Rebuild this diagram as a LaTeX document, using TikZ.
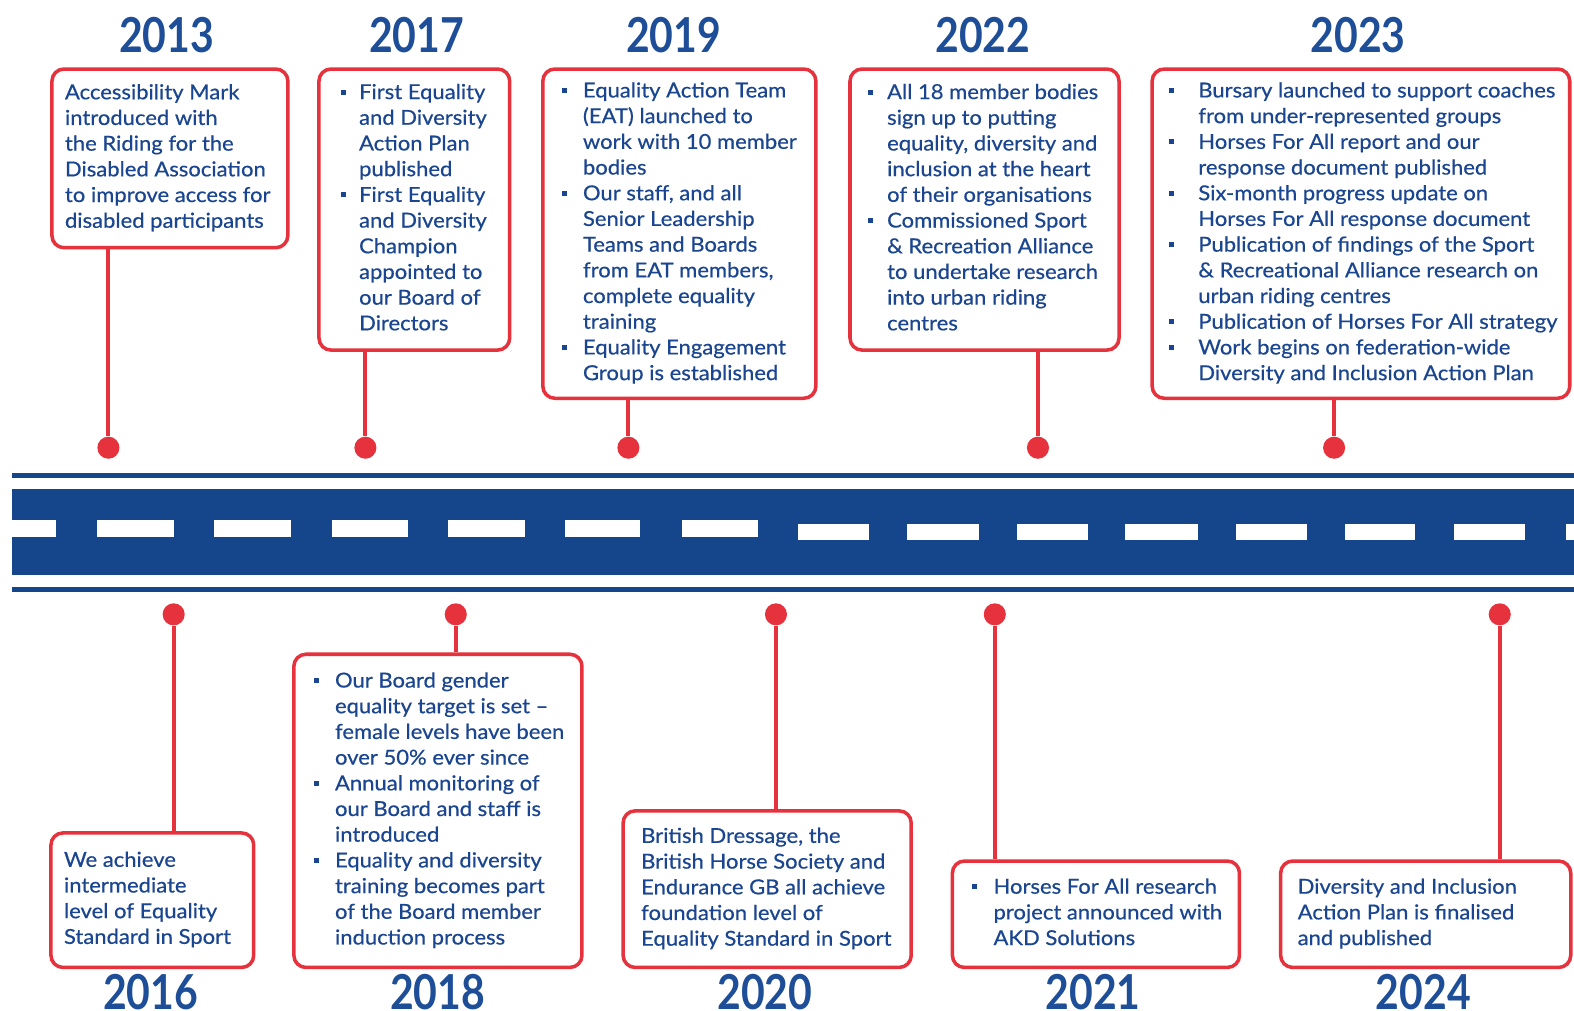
\documentclass[tikz,border=0pt]{standalone}
\usepackage{fontspec}
\setmainfont{Lato}
\newfontfamily\yearfont[FakeStretch=0.85]{Lato}
\newfontfamily\bodyfont[FakeStretch=1.07,FakeBold=0.5]{Lato}
\definecolor{tred}{HTML}{E5323C}
\definecolor{road}{HTML}{15458A}
\definecolor{tblue}{HTML}{1A4590}
\definecolor{yblue}{HTML}{1D4E97}
\newcommand\bodysize{\bodyfont\fontsize{20.5}{25.6}\selectfont}
\newcommand\myb[1][20]{\makebox[#1pt][l]{\rule[4.5pt]{5pt}{5pt}}}
\newcommand\myi[1][20]{\hspace*{#1pt}}
\newcommand\bx[3]{\makebox[#1pt][l]{\hspace*{#2pt}\begin{tabular}{@{}l@{}}#3\end{tabular}}}
\tikzset{
  box/.style={draw=tred, line width=3.5pt, rounded corners=12pt, fill=white,
    inner sep=0pt, anchor=north west, font=\bodysize, text=tblue},
  year/.style={font=\yearfont\bfseries\fontsize{48}{48}\selectfont, text=yblue, inner sep=0pt, anchor=base},
  dot/.style={circle, fill=tred, minimum size=22pt, inner sep=0pt},
  conn/.style={draw=tred, line width=4pt},
}
\begin{document}
\begin{tikzpicture}[x=1pt,y=-1pt]
\useasboundingbox (0,0) rectangle (1568,1007);
\fill[white] (0,0) rectangle (1568,1007);
% road
\fill[road] (12,487) rectangle (1568,573);
\draw[road, line width=5pt] (12,474) -- (1568,474);
\draw[road, line width=5pt] (12,587) -- (1568,587);
\foreach \a/\b in {12/56,97/173,213/290,331/406,446/523,563/638,679/755}
  \fill[white] (\a,518) rectangle (\b,535);
\foreach \a/\b in {795/866,904/975,1013/1084,1121/1193,1231/1302,1340/1410,1448/1519,1560/1568}
  \fill[white] (\a,522) rectangle (\b,538);
% dots
\node[dot] (d2013) at (108,446) {};
\node[dot] (d2017) at (364,446) {};
\node[dot] (d2019) at (626,446) {};
\node[dot] (d2022) at (1034,446) {};
\node[dot] (d2023) at (1329,446) {};
\node[dot] (d2016) at (173,612) {};
\node[dot] (d2018) at (454,612) {};
\node[dot] (d2020) at (773,612) {};
\node[dot] (d2021) at (991,612) {};
\node[dot] (d2024) at (1494,612) {};
% years
\node[year] (y2013) at (166,52) {2013};
\node[year] (y2017) at (415,52) {2017};
\node[year] (y2019) at (671,52) {2019};
\node[year] (y2022) at (979,52) {2022};
\node[year] (y2023) at (1353,52) {2023};
\node[year] (y2016) at (150,1006) {2016};
\node[year] (y2018) at (436,1006) {2018};
\node[year] (y2020) at (762,1006) {2020};
\node[year] (y2021) at (1089,1006) {2021};
\node[year] (y2024) at (1418,1006) {2024};
% boxes top
\node[box, minimum width=235pt, minimum height=178pt] (b2013) at (50,67)
 {\bx{235}{13}{Accessibility Mark\\introduced with\\the Riding for the\\Disabled Association\\to improve access for\\disabled participants}};
\node[box, minimum width=190pt, minimum height=280pt] (b2017) at (316,67)
 {\bx{190}{22}{\myb[18]First Equality\\\myi[18]and Diversity\\\myi[18]Action Plan\\\myi[18]published\\\myb[18]First Equality\\\myi[18]and Diversity\\\myi[18]Champion\\\myi[18]appointed to\\\myi[18]our Board of\\\myi[18]Directors}};
\node[box, minimum width=272pt, minimum height=328pt] (b2019) at (539,67)
 {\bx{272}{19}{\myb[21]Equality Action Team\\\myi[21](EAT) launched to\\\myi[21]work with 10 member\\\myi[21]bodies\\\myb[21]Our staff, and all\\\myi[21]Senior Leadership\\\myi[21]Teams and Boards\\\myi[21]from EAT members,\\\myi[21]complete equality\\\myi[21]training\\\myb[21]Equality Engagement\\\myi[21]Group is established}};
\node[box, minimum width=268pt, minimum height=280pt] (b2022) at (845,67)
 {\bx{268}{18}{\myb[19]All 18 member bodies\\\myi[19]sign up to putting\\\myi[19]equality, diversity and\\\myi[19]inclusion at the heart\\\myi[19]of their organisations\\\myb[19]Commissioned Sport\\\myi[19]\& Recreation Alliance\\\myi[19]to undertake research\\\myi[19]into urban riding\\\myi[19]centres}};
\node[box, minimum width=416pt, minimum height=328pt] (b2023) at (1146,67)
 {\bx{416}{17}{\myb[29]Bursary launched to support coaches\\\myi[29]from under-represented groups\\\myb[29]Horses For All report and our\\\myi[29]response document published\\\myb[29]Six-month progress update on\\\myi[29]Horses For All response document\\\myb[29]Publication of findings of the Sport\\\myi[29]\& Recreational Alliance research on\\\myi[29]urban riding centres\\\myb[29]Publication of Horses For All strategy\\\myb[29]Work begins on federation-wide\\\myi[29]Diversity and Inclusion Action Plan}};
% boxes bottom
\node[box, minimum width=202pt, minimum height=134pt] (b2016) at (49,828)
 {\bx{202}{13}{We achieve\\intermediate\\level of Equality\\Standard in Sport}};
\node[box, minimum width=287pt, minimum height=312pt] (b2018) at (291,650)
 {\bx{287}{20}{\myb[21]Our Board gender\\\myi[21]equality target is set –\\\myi[21]female levels have been\\\myi[21]over 50\% ever since\\\myb[21]Annual monitoring of\\\myi[21]our Board and staff is\\\myi[21]introduced\\\myb[21]Equality and diversity\\\myi[21]training becomes part\\\myi[21]of the Board member\\\myi[21]induction process}};
\node[box, minimum width=287pt, minimum height=156pt] (b2020) at (619,806)
 {\bx{287}{18}{British Dressage, the\\British Horse Society and\\Endurance GB all achieve\\foundation level of\\Equality Standard in Sport}};
\node[box, minimum width=286pt, minimum height=106pt] (b2021) at (947,856)
 {\bx{286}{20}{\myb[21]Horses For All research\\\myi[21]project announced with\\\myi[21]AKD Solutions}};
\node[box, minimum width=289pt, minimum height=106pt] (b2024) at (1274,856)
 {\bx{289}{17}{Diversity and Inclusion\\Action Plan is finalised\\and published}};
% connectors
\foreach \n in {2013,2017,2019,2022,2023}
  \draw[conn] (d\n) -- (b\n.south -| d\n);
\foreach \n in {2016,2018,2020,2021,2024}
  \draw[conn] (d\n) -- (b\n.north -| d\n);
\end{tikzpicture}
\end{document}
